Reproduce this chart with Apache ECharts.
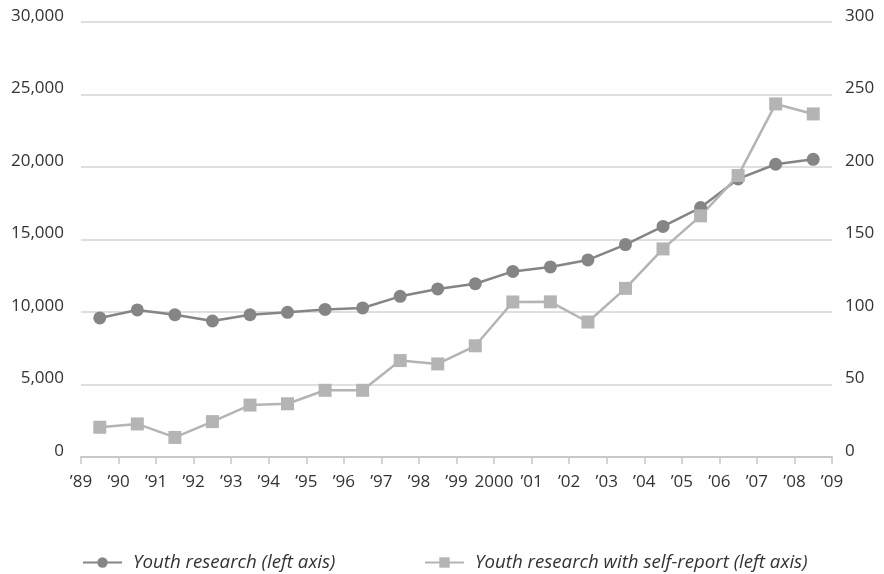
<!DOCTYPE html>
<html>
<head>
<meta charset="utf-8">
<script src="https://cdn.jsdelivr.net/npm/echarts@6/dist/echarts.min.js"></script>
<style>
html,body{margin:0;padding:0;background:#fff;}
#chart{width:884px;height:574px;}
</style>
</head>
<body>
<div id="chart"></div>
<script>
// Tick labels on the x axis (year boundaries)
var tickLabels = ["\u201989","\u201990","\u201991","\u201992","\u201993","\u201994","\u201995","\u201996","\u201997","\u201998","\u201999","2000","\u201901","\u201902","\u201903","\u201904","\u201905","\u201906","\u201907","\u201908","\u201909"];
// Periods (one point per year, plotted between ticks)
var periods = ["1989","1990","1991","1992","1993","1994","1995","1996","1997","1998","1999","2000","2001","2002","2003","2004","2005","2006","2007","2008"];
// Youth research (left axis)
var youthResearch = [9590,10140,9810,9380,9810,9980,10180,10280,11080,11590,11950,12800,13110,13590,14650,15900,17200,19180,20190,20530];
// Youth research with self-report (plotted on right axis scale)
var selfReport = [20.5,22.8,13.5,24.4,35.8,36.7,46,46,66.5,64.2,76.7,106.9,107,93.1,116.3,143.5,166.3,194.1,243.5,236.6];

var leftTicks = [0,5000,10000,15000,20000,25000,30000];
var rightTicks = [0,50,100,150,200,250,300];

var names = ["Youth research (left axis)", "Youth research with self-report (left axis)"];

function toPoints(arr){ return arr.map(function(v,i){ return [i+0.5, v]; }); }

var FONT = "'Open Sans', sans-serif";
var chart = echarts.init(document.getElementById('chart'), null, {renderer:'canvas'});
chart.setOption({
  animation:false,
  backgroundColor:'#ffffff',
  grid:{left:81, right:52, top:22, bottom:117, containLabel:false},
  legend:[
    {data:[names[0]], left:77, top:548, itemWidth:39, itemHeight:13, itemGap:0,
     textStyle:{fontFamily:FONT, fontStyle:'italic', fontSize:18.7, color:'#333', padding:[0,0,0,6]}},
    {data:[names[1]], left:419, top:548, itemWidth:39, itemHeight:13, itemGap:0,
     textStyle:{fontFamily:FONT, fontStyle:'italic', fontSize:18.7, color:'#333', padding:[0,0,0,6]}}
  ],
  xAxis:{
    type:'value', min:0, max:tickLabels.length-1, interval:1,
    axisLine:{show:true, onZero:false, lineStyle:{color:'#c8c8c8', width:2}},
    axisTick:{show:true, length:7, lineStyle:{color:'#c8c8c8', width:1.5}},
    splitLine:{show:false},
    axisLabel:{fontFamily:FONT, fontSize:17, color:'#333', margin:17,
      formatter:function(v){ return tickLabels[Math.round(v)] || ''; }}
  },
  yAxis:[
    {type:'value', min:leftTicks[0], max:leftTicks[leftTicks.length-1], interval:5000, position:'left',
     axisLine:{show:false}, axisTick:{show:false},
     splitLine:{lineStyle:{color:'#d4d4d4', width:1.5}},
     axisLabel:{fontFamily:FONT, fontSize:17, color:'#333', margin:17, verticalAlign:'bottom', lineHeight:12,
       formatter:function(v){ return v.toLocaleString('en-US'); }}},
    {type:'value', min:rightTicks[0], max:rightTicks[rightTicks.length-1], interval:50, position:'right',
     axisLine:{show:false}, axisTick:{show:false}, splitLine:{show:false},
     axisLabel:{fontFamily:FONT, fontSize:17, color:'#333', margin:13, verticalAlign:'bottom', lineHeight:12}}
  ],
  series:[
    {name:names[0], type:'line', yAxisIndex:0, data:toPoints(youthResearch),
     symbol:'circle', symbolSize:13, showAllSymbol:true,
     lineStyle:{color:'#858585', width:2.5}, itemStyle:{color:'#858585'}},
    {name:names[1], type:'line', yAxisIndex:1, data:toPoints(selfReport),
     symbol:'rect', symbolSize:13, showAllSymbol:true,
     lineStyle:{color:'#b4b4b4', width:2.5}, itemStyle:{color:'#b4b4b4'}}
  ]
});
</script>
</body>
</html>
